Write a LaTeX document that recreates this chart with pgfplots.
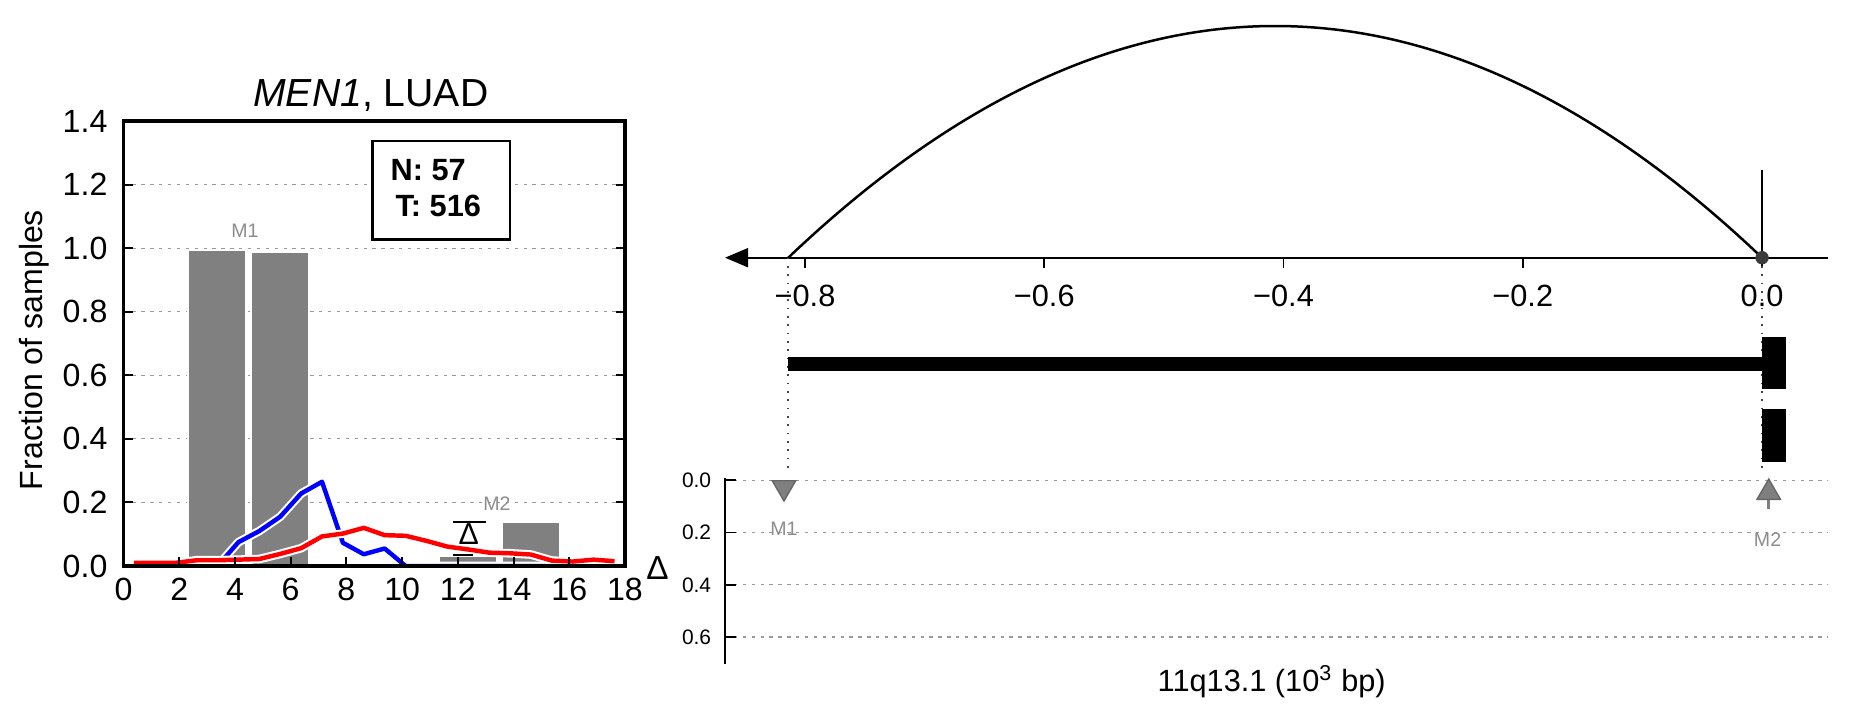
\documentclass[border=0pt]{standalone}
\usepackage{fontspec}
\setmainfont{Liberation Sans}
\usepackage{pgfplots}
\pgfplotsset{compat=1.18}
\usetikzlibrary{arrows.meta}

\definecolor{barg}{HTML}{808080}
\definecolor{mkfill}{HTML}{7F7F7F}
\definecolor{mkedge}{HTML}{666666}
\definecolor{lblg}{HTML}{8C8C8C}
\definecolor{gridg}{HTML}{9A9A9A}
\definecolor{dotg}{HTML}{444444}
\definecolor{dotc}{HTML}{3C3C3C}

\newcommand{\fs}[1]{\fontsize{#1}{#1}\selectfont}

\begin{document}
\begin{tikzpicture}
\path[use as bounding box] (0,0) rectangle (666.36pt,-258.48pt);

%================ left panel =================
\begin{axis}[
  at={(44.46pt,-203.76pt)}, anchor=south west,
  scale only axis, width=180.54pt, height=160.2pt,
  xmin=0, xmax=18, ymin=0, ymax=1.4,
  axis on top,
  axis line style={line width=1.25pt},
  xtick={0,2,4,6,8,10,12,14,16,18},
  xticklabels={0,2,4,6,8,10,12,14,16,18},
  ytick={0,0.2,0.4,0.6,0.8,1.0,1.2,1.4},
  yticklabels={0.0,0.2,0.4,0.6,0.8,1.0,1.2,1.4},
  xtick pos=left, ytick pos=both,
  tick align=inside,
  major tick length=3.24pt,
  tick style={black, line width=0.7pt},
  tick label style={font=\fs{11.56}},
  xticklabel style={inner sep=0pt, yshift=-4.3pt},
  yticklabel style={inner sep=0pt, xshift=-5.6pt},
]
% grid lines (behind bars)
\addplot[gridg, line width=0.45pt, dash pattern=on 1.2pt off 2pt] coordinates {(0,0.2) (18,0.2)};
\addplot[gridg, line width=0.45pt, dash pattern=on 1.2pt off 2pt] coordinates {(0,0.4) (18,0.4)};
\addplot[gridg, line width=0.45pt, dash pattern=on 1.2pt off 2pt] coordinates {(0,0.6) (18,0.6)};
\addplot[gridg, line width=0.45pt, dash pattern=on 1.2pt off 2pt] coordinates {(0,0.8) (18,0.8)};
\addplot[gridg, line width=0.45pt, dash pattern=on 1.2pt off 2pt] coordinates {(0,1.0) (18,1.0)};
\addplot[gridg, line width=0.45pt, dash pattern=on 1.2pt off 2pt] coordinates {(0,1.2) (18,1.2)};
% bars
\addplot[ybar, bar width=2.08, bar shift=0pt, fill=barg, draw=white, line width=0.7pt]
  coordinates {(3.34,0.994) (5.61,0.987) (12.355,0.031) (14.625,0.138)};
% blue line
\addplot[white, line width=3.1pt, line join=round] coordinates {
 (0.375,0) (1.125,0) (1.875,0) (2.625,0) (3.375,0) (4.125,0.075) (4.875,0.110)
 (5.625,0.155) (6.375,0.228) (7.125,0.265) (7.875,0.073) (8.625,0.037) (9.375,0.055)
 (10.125,0) (10.875,0) (11.625,0) (12.375,0) (13.125,0) (13.875,0) (14.625,0)
 (15.375,0) (16.125,0) (16.875,0) (17.625,0)};
\addplot[blue, line width=1.6pt, line join=round] coordinates {
 (0.375,0) (1.125,0) (1.875,0) (2.625,0) (3.375,0) (4.125,0.075) (4.875,0.110)
 (5.625,0.155) (6.375,0.228) (7.125,0.265) (7.875,0.073) (8.625,0.037) (9.375,0.055)
 (10.125,0) (10.875,0) (11.625,0) (12.375,0) (13.125,0) (13.875,0) (14.625,0)
 (15.375,0) (16.125,0) (16.875,0) (17.625,0)};
% red line
\addplot[white, line width=3.1pt, line join=round] coordinates {
 (0.375,0.010) (1.125,0.010) (1.875,0.010) (2.625,0.018) (3.375,0.018) (4.125,0.020)
 (4.875,0.022) (5.625,0.038) (6.375,0.056) (7.125,0.093) (7.875,0.102) (8.625,0.120)
 (9.375,0.097) (10.125,0.095) (10.875,0.079) (11.625,0.061) (12.375,0.052) (13.125,0.042)
 (13.875,0.040) (14.625,0.036) (15.375,0.017) (16.125,0.014) (16.875,0.020) (17.625,0.015)};
\addplot[red, line width=1.6pt, line join=round] coordinates {
 (0.375,0.010) (1.125,0.010) (1.875,0.010) (2.625,0.018) (3.375,0.018) (4.125,0.020)
 (4.875,0.022) (5.625,0.038) (6.375,0.056) (7.125,0.093) (7.875,0.102) (8.625,0.120)
 (9.375,0.097) (10.125,0.095) (10.875,0.079) (11.625,0.061) (12.375,0.052) (13.125,0.042)
 (13.875,0.040) (14.625,0.036) (15.375,0.017) (16.125,0.014) (16.875,0.020) (17.625,0.015)};
% delta bracket
\addplot[black, line width=0.75pt] coordinates {(11.84,0.139) (13.02,0.139)};
\addplot[black, line width=0.75pt] coordinates {(11.84,0.035) (12.55,0.035)};
\node[font=\fs{10.9}, inner sep=0pt] at (axis cs:12.39,0.1007) {Δ};
% N/T box
\draw[fill=white, line width=0.95pt] (axis cs:8.94,1.0277) rectangle (axis cs:13.87,1.337);
\node[font=\bfseries\fs{11.06}, anchor=base west, inner sep=0pt] at (axis cs:9.57,1.212) {N: 57};
\node[font=\bfseries\fs{11.06}, anchor=base west, inner sep=0pt] at (axis cs:9.745,1.101) {T: 516};
% marker labels
\node[font=\fs{7.04}, text=lblg, anchor=base, inner sep=0pt] at (axis cs:4.36,1.034) {M1};
\node[font=\fs{7.04}, text=lblg, anchor=base, inner sep=0pt] at (axis cs:13.40,0.176) {M2};
\end{axis}

% left panel title and y label
\node[font=\fs{14.1}, anchor=base, inner sep=0pt] at (133.49pt,-38.41pt) {\textit{MEN1}, LUAD};
\node[font=\fs{11.56}, anchor=base, rotate=90, inner sep=0pt] at (15.12pt,-126pt) {Fraction of samples};

%================ arc panel =================
\begin{axis}[
  at={(261pt,-92.77pt)}, anchor=south west,
  scale only axis, width=396.97pt, height=86.4pt,
  xmin=-0.8669, xmax=0.0549, ymin=0, ymax=240,
  clip=false,
  axis y line=none, axis x line=bottom,
  axis line style={line width=0.85pt},
  x axis line style={{Triangle[length=8.3pt,width=6.8pt]}-},
  xtick={-0.8,-0.6,-0.4,-0.2,0},
  xticklabels={−0.8,−0.6,−0.4,−0.2,0.0},
  xtick pos=left,
  tick align=outside,
  major tick length=3.6pt,
  tick style={black, line width=0.6pt},
  xticklabel style={font=\fs{11.06}, inner sep=0pt, yshift=-6.2pt},
]
% dotted guide lines
\addplot[dotg, line width=0.7pt, dash pattern=on 0.6pt off 2.4pt] coordinates {(-0.814,0) (-0.814,-212)};
\addplot[dotg, line width=0.7pt, dash pattern=on 0.6pt off 2.4pt] coordinates {(0,0) (0,-212)};
% arc
\draw[black, line width=0.9pt] (axis cs:-0.814,0) .. controls (axis cs:-0.5427,308.9) and (axis cs:-0.2713,308.9) .. (axis cs:0,0);
% vertical bar at 0
\addplot[black, line width=1pt] coordinates {(0,0) (0,87.7)};
\addplot[only marks, mark=*, mark size=2.2pt, mark options={fill=dotc, draw=dotc}] coordinates {(0,0)};
% gene model
\addplot[black, line width=5.04pt] coordinates {(-0.814,-106) (0,-106)};
\fill[black] (axis cs:0,-79.3) rectangle (axis cs:0.0198,-131.3);
\fill[black] (axis cs:0,-151.3) rectangle (axis cs:0.0198,-204.3);
\end{axis}

%================ delta panel =================
\begin{axis}[
  at={(261pt,-239.04pt)}, anchor=south west,
  scale only axis, width=396.97pt, height=66.96pt,
  xmin=-0.8669, xmax=0.0549, ymin=-0.0088, ymax=0.703,
  y dir=reverse,
  clip=false,
  axis x line=none, axis y line=left,
  y axis line style={-, line width=1pt},
  xtick=\empty,
  ytick={0,0.2,0.4,0.6},
  yticklabels={0.0,0.2,0.4,0.6},
  tick align=inside,
  major tick length=4pt,
  tick style={black, line width=0.6pt},
  yticklabel style={font=\fs{7.54}, inner sep=0pt, xshift=-4.8pt},
  ymajorgrids,
  grid style={gridg, line width=0.45pt, dash pattern=on 1.2pt off 2pt},
]
\addplot[only marks, mark=triangle*, mark size=4.86pt, mark options={rotate=180, fill=mkfill, draw=mkedge, line width=0.5pt}] coordinates {(-0.8176,0.0276)};
\addplot[mkfill, line width=1.1pt] coordinates {(0.0056,0.07) (0.0056,0.111)};
\addplot[only marks, mark=triangle*, mark size=4.86pt, mark options={fill=mkfill, draw=mkedge, line width=0.5pt}] coordinates {(0.0056,0.047)};
\node[font=\fs{7.04}, text=lblg, anchor=base, inner sep=0pt] at (axis cs:-0.8176,0.2094) {M1};
\node[font=\fs{7.04}, text=lblg, anchor=base, inner sep=0pt] at (axis cs:0.0046,0.2515) {M2};
\end{axis}

\node[font=\fs{12}, anchor=base, inner sep=0pt] at (236.7pt,-208.8pt) {Δ};
\node[font=\fs{11.06}, anchor=base, inner sep=0pt] at (457.81pt,-249.01pt) {11q13.1 (10\textsuperscript{3} bp)};

\end{tikzpicture}
\end{document}
